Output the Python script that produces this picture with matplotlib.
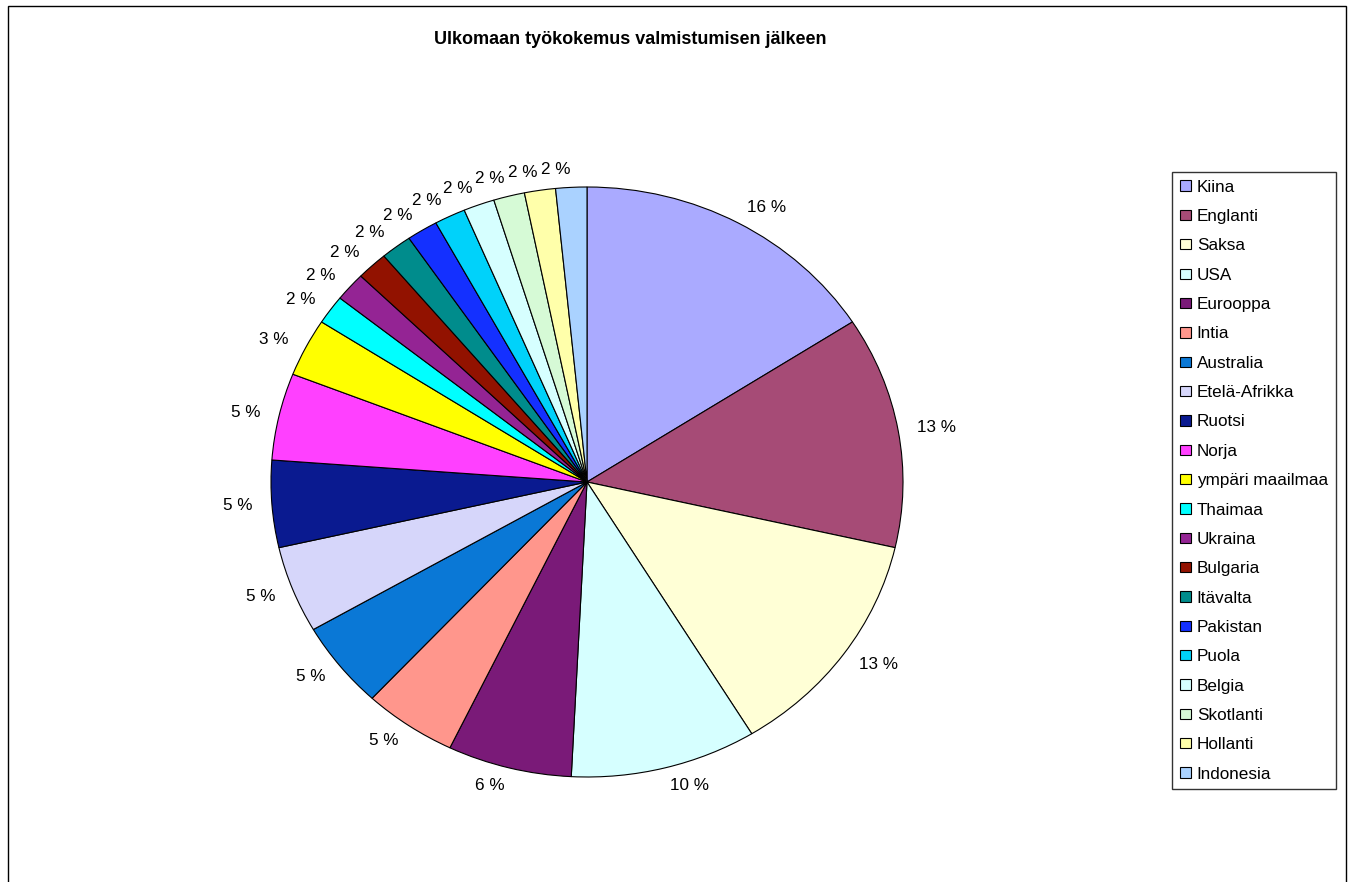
import matplotlib.pyplot as plt
from matplotlib.patches import Rectangle

plt.rcParams['font.family'] = ['Liberation Sans', 'DejaVu Sans']

# Maat ja lukumäärät (luettu kuvasta, prosentit pyöristetty)
countries = ['Kiina', 'Englanti', 'Saksa', 'USA', 'Eurooppa', 'Intia', 'Australia',
             'Etelä-Afrikka', 'Ruotsi', 'Norja', 'ympäri maailmaa', 'Thaimaa', 'Ukraina',
             'Bulgaria', 'Itävalta', 'Pakistan', 'Puola', 'Belgia', 'Skotlanti',
             'Hollanti', 'Indonesia']
counts = [10, 8, 8, 6, 4, 3, 3, 3, 3, 3, 2, 1, 1, 1, 1, 1, 1, 1, 1, 1, 1]
colors = ['#AAAAFF', '#A64B76', '#FFFFD6', '#D6FFFF', '#7A1A78', '#FF968C', '#0A78D6',
          '#D6D6FA', '#0A1A90', '#FF40FF', '#FFFF00', '#00FFFF', '#942494',
          '#921200', '#008C8C', '#1430FF', '#00D2FA', '#D6FFFF', '#D6FAD6',
          '#FFFFAA', '#AAD2FF']

total = sum(counts)
pct_labels = [f'{round(c / total * 100)} %' for c in counts]

W, H = 1354, 882
fig = plt.figure(figsize=(W / 100, H / 100), dpi=100)

# Kuvan reunaviiva
fig.patches.append(Rectangle((8 / W, -0.01), (1346 - 8) / W, (H - 6) / H + 0.01,
                             transform=fig.transFigure, fill=False,
                             edgecolor='black', linewidth=1))

# Piirakka (hieman litistetty ellipsi kuten Excelissä)
cx, cy, rx, ry = 587, 482, 316, 295
ax = fig.add_axes([(cx - rx) / W, (H - cy - ry) / H, 2 * rx / W, 2 * ry / H])
wedges, texts = ax.pie(counts, colors=colors, labels=pct_labels, startangle=90,
                       counterclock=False, labeldistance=1.06,
                       wedgeprops=dict(edgecolor='black', linewidth=0.8),
                       textprops=dict(fontsize=12.3))
ax.set_aspect('auto')
ax.set_xlim(-1, 1)
ax.set_ylim(-1, 1)
ax.axis('off')

fig.text(630 / W, 1 - 40 / H, 'Ulkomaan työkokemus valmistumisen jälkeen',
         ha='center', va='center', fontsize=13, fontweight='bold')

leg = fig.legend(wedges, countries, loc='upper left',
                 bbox_to_anchor=(1172 / W, 1 - 172 / H), fontsize=12.3,
                 frameon=True, fancybox=False, handlelength=0.65, handleheight=0.55,
                 handletextpad=0.35, labelspacing=0.84, borderpad=0.45,
                 borderaxespad=0)
leg.get_frame().set_edgecolor('black')
leg.get_frame().set_linewidth(1)

fig.savefig('out.png', dpi=100)
